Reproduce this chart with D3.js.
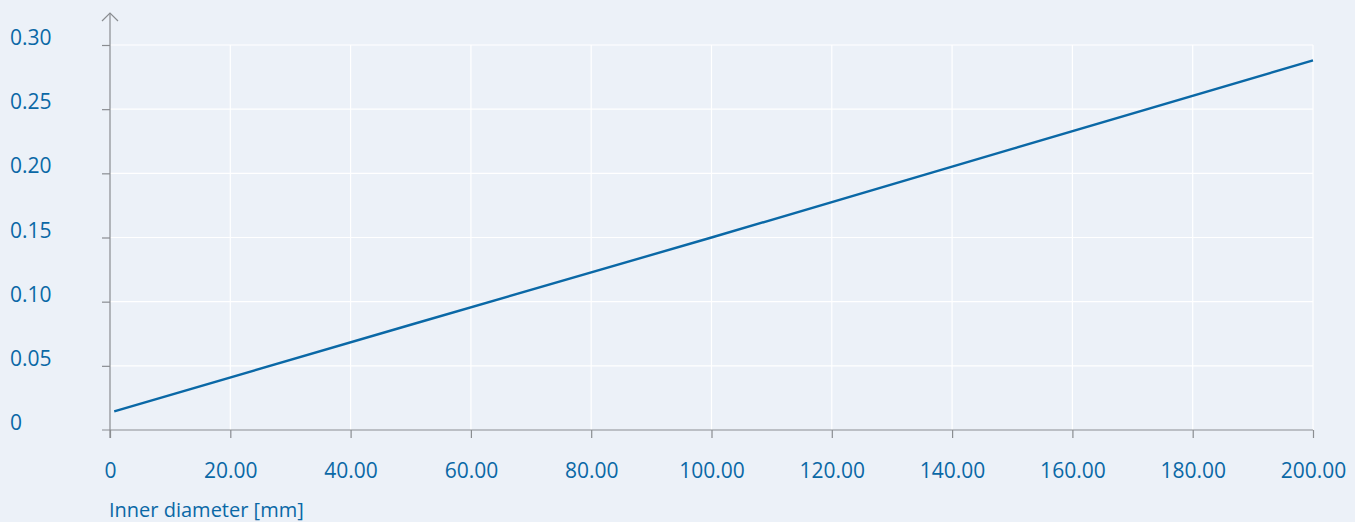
<!DOCTYPE html>
<html>
<head>
<meta charset="utf-8">
<script src="https://cdn.jsdelivr.net/npm/d3@7/dist/d3.min.js"></script>
<style>
  html, body { margin: 0; padding: 0; background: #ecf1f8; }
  svg { display: block; }
  text { font-family: "Open Sans", "Noto Sans", sans-serif; fill: #0a68a6; }
</style>
</head>
<body>
<svg id="chart" width="1355" height="522"></svg>
<script>
// ── Data ──────────────────────────────────────────────────────────────────────
const diameters = [0.7, 50, 100, 150, 200];
const values    = [0.0145, 0.082, 0.150, 0.219, 0.288];
const xTicks = [0, 20, 40, 60, 80, 100, 120, 140, 160, 180, 200];
const yTicks = [0, 0.05, 0.10, 0.15, 0.20, 0.25, 0.30];
const xTitle = 'Inner diameter [mm]';

(function () {
  const svg = d3.select('#chart');
  const mLeft = 110, mRight = 1313, mTop = 45, mBottom = 430;

  const x = d3.scaleLinear().domain([0, 200]).range([mLeft, mRight]);
  const y = d3.scaleLinear().domain([0, 0.30]).range([mBottom, mTop]);

  const fmt = d => d === 0 ? '0' : d3.format('.2f')(d);

  // gridlines
  svg.append('g')
    .selectAll('line')
    .data(yTicks.filter(d => d > 0))
    .join('line')
    .attr('x1', mLeft).attr('x2', mRight)
    .attr('y1', d => y(d)).attr('y2', d => y(d))
    .attr('stroke', '#ffffff').attr('stroke-width', 1.2);

  svg.append('g')
    .selectAll('line')
    .data(xTicks.filter(d => d > 0))
    .join('line')
    .attr('x1', d => x(d)).attr('x2', d => x(d))
    .attr('y1', mTop).attr('y2', mBottom)
    .attr('stroke', '#ffffff').attr('stroke-width', 1.2);

  // axes
  const axisCol = '#8a8d91';
  const xAxis = svg.append('g')
    .attr('transform', `translate(0,${mBottom})`)
    .call(d3.axisBottom(x).tickValues(xTicks).tickSize(8).tickFormat(fmt));
  xAxis.select('.domain').remove();
  xAxis.selectAll('.tick line').attr('stroke', axisCol).attr('stroke-width', 1.2);
  xAxis.selectAll('.tick text')
    .attr('y', 48).attr('dy', 0)
    .attr('font-size', 21).attr('fill', '#0a68a6')
    .attr('font-family', '"Open Sans", "Noto Sans", sans-serif');
  svg.append('line')
    .attr('x1', mLeft - 8).attr('x2', mRight)
    .attr('y1', mBottom).attr('y2', mBottom)
    .attr('stroke', axisCol).attr('stroke-width', 1.2);

  const yAxis = svg.append('g')
    .attr('transform', `translate(${mLeft},0)`)
    .call(d3.axisLeft(y).tickValues(yTicks.filter(d => d > 0)).tickSize(8).tickFormat(fmt));
  yAxis.select('.domain').remove();
  yAxis.selectAll('.tick line').attr('stroke', axisCol).attr('stroke-width', 1.2);
  yAxis.selectAll('.tick text').remove();

  // y labels left-aligned at page edge
  svg.append('g')
    .selectAll('text')
    .data(yTicks)
    .join('text')
    .attr('x', 10)
    .attr('y', d => y(d))
    .attr('font-size', 21)
    .text(fmt);

  // y axis line with arrow
  svg.append('line')
    .attr('x1', mLeft).attr('x2', mLeft)
    .attr('y1', 13).attr('y2', mBottom + 8)
    .attr('stroke', axisCol).attr('stroke-width', 1.2);
  svg.append('path')
    .attr('d', `M${mLeft - 8},21 L${mLeft},13 L${mLeft + 8},21`)
    .attr('fill', 'none').attr('stroke', axisCol).attr('stroke-width', 1.2);

  // x title
  svg.append('text')
    .attr('x', mLeft - 1).attr('y', 517)
    .attr('font-size', 20)
    .text(xTitle);

  // series line
  const pts = diameters.map((d, i) => [d, values[i]]);
  svg.append('path')
    .datum(pts)
    .attr('fill', 'none')
    .attr('stroke', '#0a68a6')
    .attr('stroke-width', 2.4)
    .attr('d', d3.line().x(d => x(d[0])).y(d => y(d[1])));
})();
</script>
</body>
</html>
